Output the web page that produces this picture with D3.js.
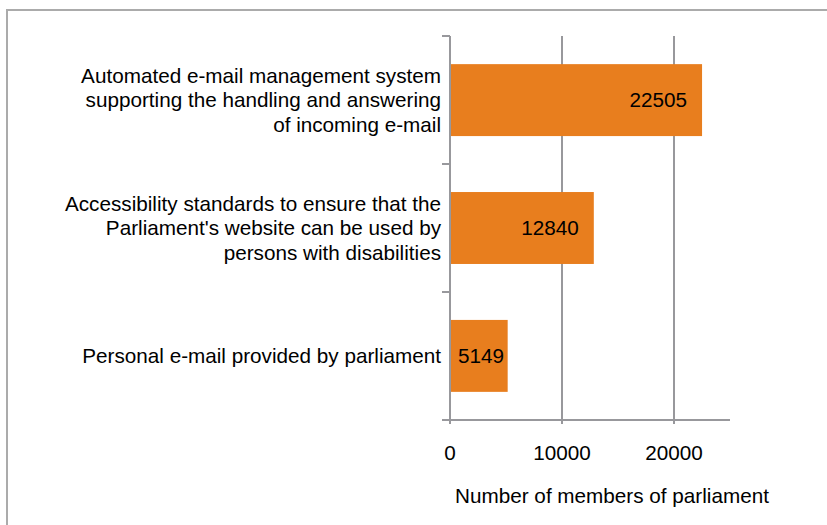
<!DOCTYPE html>
<html><head><meta charset="utf-8">
<script src="https://cdn.jsdelivr.net/npm/d3@7"></script>
<style>
html,body{margin:0;padding:0;background:#fff;}
svg{display:block;font-family:"Liberation Sans",Arial,sans-serif;}
</style></head>
<body>
<svg id="c" width="827" height="525"></svg>
<script>
const categories = [
  "Automated e-mail management system\nsupporting the handling and answering\nof incoming e-mail",
  "Accessibility standards to ensure that the\nParliament's website can be used by\npersons with disabilities",
  "Personal e-mail provided by parliament"
];
const values = [22505, 12840, 5149];
const xTicks = [0, 10000, 20000];
const xTitle = "Number of members of parliament";

const svg = d3.select("#c");
const fs = 20.7;
const gridColor = "#98989c";
const barColor = "#e87e1e";

// outer border
svg.append("rect").attr("x", 7).attr("y", 10).attr("width", 840).attr("height", 540)
  .attr("fill", "none").attr("stroke", "#ababab").attr("stroke-width", 2);

const m = {left: 450, right: 730, top: 36, bottom: 420};
const x = d3.scaleLinear().domain([0, 25000]).range([m.left, m.right]);
const y = d3.scaleBand().domain(categories).range([m.top, m.bottom]).paddingInner(0.4375).paddingOuter(0.22);

// gridlines
svg.append("g").selectAll("line").data(xTicks.slice(1)).join("line")
  .attr("x1", d => x(d)).attr("x2", d => x(d))
  .attr("y1", m.top).attr("y2", m.bottom + 4)
  .attr("stroke", gridColor).attr("stroke-width", 2);

// bars
svg.append("g").selectAll("rect").data(values).join("rect")
  .attr("x", x(0)).attr("y", (d, i) => y(categories[i]))
  .attr("width", d => x(d) - x(0)).attr("height", y.bandwidth())
  .attr("fill", barColor);

// y axis line and ticks (category boundaries)
const bounds = d3.range(categories.length + 1).map(i => m.top + i * (m.bottom - m.top) / categories.length);
svg.append("line").attr("x1", x(0)).attr("x2", x(0)).attr("y1", m.top).attr("y2", m.bottom + 4)
  .attr("stroke", gridColor).attr("stroke-width", 2);
svg.append("g").selectAll("line").data(bounds).join("line")
  .attr("x1", x(0) - 8).attr("x2", x(0)).attr("y1", d => d).attr("y2", d => d)
  .attr("stroke", gridColor).attr("stroke-width", 2);

// x axis line
svg.append("line").attr("x1", x(0) - 8).attr("x2", m.right).attr("y1", m.bottom).attr("y2", m.bottom)
  .attr("stroke", gridColor).attr("stroke-width", 2);

// x tick labels
svg.append("g").selectAll("text").data(xTicks).join("text")
  .attr("x", d => x(d)).attr("y", 460).attr("text-anchor", "middle")
  .attr("font-size", fs).attr("fill", "#000").text(d => d);

// x title
svg.append("text").attr("x", 612).attr("y", 503).attr("text-anchor", "middle")
  .attr("font-size", fs).attr("fill", "#000").text(xTitle);

// category labels
const lh = 24.3;
categories.forEach((c, i) => {
  const lines = c.split("\n");
  const cy = y(c) + y.bandwidth() / 2;
  const t = svg.append("text").attr("text-anchor", "end").attr("font-size", fs).attr("fill", "#000");
  lines.forEach((ln, j) => {
    t.append("tspan").attr("x", 441)
      .attr("y", cy + (j - (lines.length - 1) / 2) * lh + fs * 0.35).text(ln);
  });
});

// value labels
values.forEach((v, i) => {
  const cy = y(categories[i]) + y.bandwidth() / 2 + fs * 0.35;
  const t = svg.append("text").attr("font-size", fs).attr("fill", "#000").text(v);
  const w = t.node().getComputedTextLength();
  let xe = x(v) - 15;
  if (xe - w < x(0) + 8) xe = x(0) + 8 + w;
  t.attr("x", xe).attr("y", cy).attr("text-anchor", "end");
});
</script>
</body></html>
